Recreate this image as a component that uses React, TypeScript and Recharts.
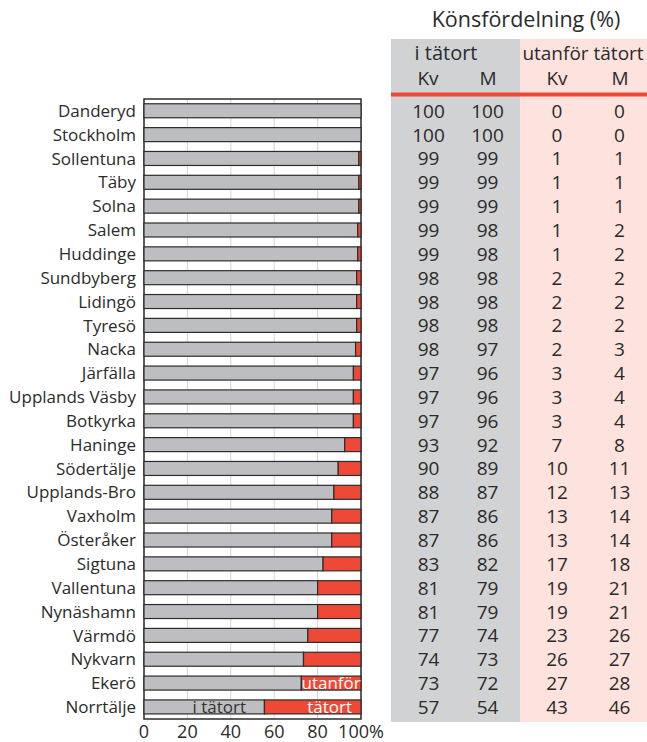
import { BarChart, Bar, XAxis, YAxis, CartesianGrid, ReferenceArea } from "recharts";

const kommuner = [
  "Danderyd", "Stockholm", "Sollentuna", "Täby", "Solna", "Salem", "Huddinge",
  "Sundbyberg", "Lidingö", "Tyresö", "Nacka", "Järfälla", "Upplands Väsby",
  "Botkyrka", "Haninge", "Södertälje", "Upplands-Bro", "Vaxholm", "Österåker",
  "Sigtuna", "Vallentuna", "Nynäshamn", "Värmdö", "Nykvarn", "Ekerö", "Norrtälje",
];
const kvTatort = [100, 100, 99, 99, 99, 99, 99, 98, 98, 98, 98, 97, 97, 97, 93, 90, 88, 87, 87, 83, 81, 81, 77, 74, 73, 57];
const mTatort = [100, 100, 99, 99, 99, 98, 98, 98, 98, 98, 97, 96, 96, 96, 92, 89, 87, 86, 86, 82, 79, 79, 74, 73, 72, 54];
const kvUtanfor = [0, 0, 1, 1, 1, 1, 1, 2, 2, 2, 2, 3, 3, 3, 7, 10, 12, 13, 13, 17, 19, 19, 23, 26, 27, 43];
const mUtanfor = [0, 0, 1, 1, 1, 2, 2, 2, 2, 2, 3, 4, 4, 4, 8, 11, 13, 14, 14, 18, 21, 21, 26, 27, 28, 46];
const xTicks = [0, 20, 40, 60, 80, 100];

// bar = mean of women and men
const data = kommuner.map((name, i) => {
  const inne = (kvTatort[i] + mTatort[i]) / 2;
  return { name, inne, ute: 100 - inne };
});

const FONT = "'Open Sans', sans-serif";
const TEXT = "#2b2b2b";
const GRAY = "#bdbec1";
const RED = "#ee4937";
const EDGE = "#2c2c2c";
const colX = [67.5, 126.5, 196, 258.5];
const LAST = kommuner.length - 1;

const TableRow = ({ x, y, payload, index }: any) => {
  const i = payload?.index ?? index;
  const vals = [kvTatort[i], mTatort[i], kvUtanfor[i], mUtanfor[i]];
  return (
    <g>
      {vals.map((v, j) => (
        <text key={j} x={x + colX[j]} y={y} dy="0.36em" textAnchor="middle" fontSize={19} fill={TEXT} fontFamily={FONT}>
          {v}
        </text>
      ))}
    </g>
  );
};

const labelProps = { dy: "0.36em", textAnchor: "middle" as const, fontSize: 17, fontFamily: FONT };

const InneShape = ({ x, y, width, height, index }: any) => {
  if (!(width > 0)) return null;
  return (
    <g>
      <rect x={x} y={y} width={width} height={height} fill={GRAY} stroke={EDGE} strokeWidth={1.2} />
      {index === LAST && (
        <text x={x + width / 2 + 15} y={y + height / 2} fill="#333" {...labelProps}>i tätort</text>
      )}
    </g>
  );
};

const UteShape = ({ x, y, width, height, index }: any) => {
  if (!(width > 0)) return null;
  let txt = "";
  let dx = 0;
  if (index === LAST - 1) txt = "utanför";
  if (index === LAST) {
    txt = "tätort";
    dx = 17;
  }
  return (
    <g>
      <rect x={x} y={y} width={width} height={height} fill={RED} stroke={EDGE} strokeWidth={1.2} />
      {txt && (
        <text x={x + width / 2 + dx} y={y + height / 2} fill="#fff" {...labelProps}>{txt}</text>
      )}
    </g>
  );
};

export default function App() {
  return (
    <div style={{ position: "absolute", left: 0, top: 0, width: 647, height: 742 }}>
      <svg width={647} height={742} style={{ position: "absolute", left: 0, top: 0 }}>
        <rect x={391} y={39} width={129} height={683} fill="#d1d2d4" />
        <rect x={520} y={39} width={127} height={683} fill="#fde2dd" />
        <rect x={391} y={92.5} width={256} height={4} fill={RED} />
        <g fontFamily={FONT} fill={TEXT}>
          <text x={526} y={27} textAnchor="middle" fontSize={21.5} fontWeight={500}>Könsfördelning (%)</text>
          <text x={446} y={60} textAnchor="middle" fontSize={20}>i tätort</text>
          <text x={583} y={60} textAnchor="middle" fontSize={19}>utanför tätort</text>
          <text x={428} y={85} textAnchor="middle" fontSize={19}>Kv</text>
          <text x={488} y={85} textAnchor="middle" fontSize={19}>M</text>
          <text x={557} y={85} textAnchor="middle" fontSize={19}>Kv</text>
          <text x={620} y={85} textAnchor="middle" fontSize={19}>M</text>
        </g>
      </svg>
      <div style={{ position: "absolute", left: 0, top: 0 }}>
        <BarChart
          width={647}
          height={742}
          data={data}
          layout="vertical"
          barCategoryGap="20%"
          margin={{ top: 99, right: 0, bottom: 0, left: 0 }}
        >
          <CartesianGrid horizontal={false} vertical stroke="#d4d4d4" />
          <XAxis
            type="number"
            domain={[0, 100]}
            ticks={xTicks}
            tickFormatter={(v: number) => (v === 100 ? "100%" : String(v))}
            height={23}
            axisLine={false}
            tickLine={false}
            tickSize={0}
            tickMargin={6}
            tick={{ fontSize: 18, fill: TEXT, fontFamily: FONT }}
          />
          <YAxis
            yAxisId="left"
            type="category"
            dataKey="name"
            width={144}
            axisLine={false}
            tickLine={false}
            tickSize={0}
            tickMargin={8}
            interval={0}
            tick={{ fontSize: 17, fill: TEXT, fontFamily: FONT }}
          />
          <YAxis
            yAxisId="right"
            orientation="right"
            type="category"
            dataKey="name"
            width={286}
            axisLine={false}
            tickLine={false}
            tickSize={0}
            tickMargin={0}
            interval={0}
            tick={<TableRow />}
          />
          <Bar dataKey="inne" stackId="a" yAxisId="left" fill={GRAY} shape={<InneShape />} isAnimationActive={false} />
          <Bar dataKey="ute" stackId="a" yAxisId="left" fill={RED} shape={<UteShape />} isAnimationActive={false} />
          <ReferenceArea yAxisId="left" x1={0} x2={100} fill="none" stroke="#2e2e2e" strokeWidth={1.5} ifOverflow="visible" />
        </BarChart>
      </div>
    </div>
  );
}
